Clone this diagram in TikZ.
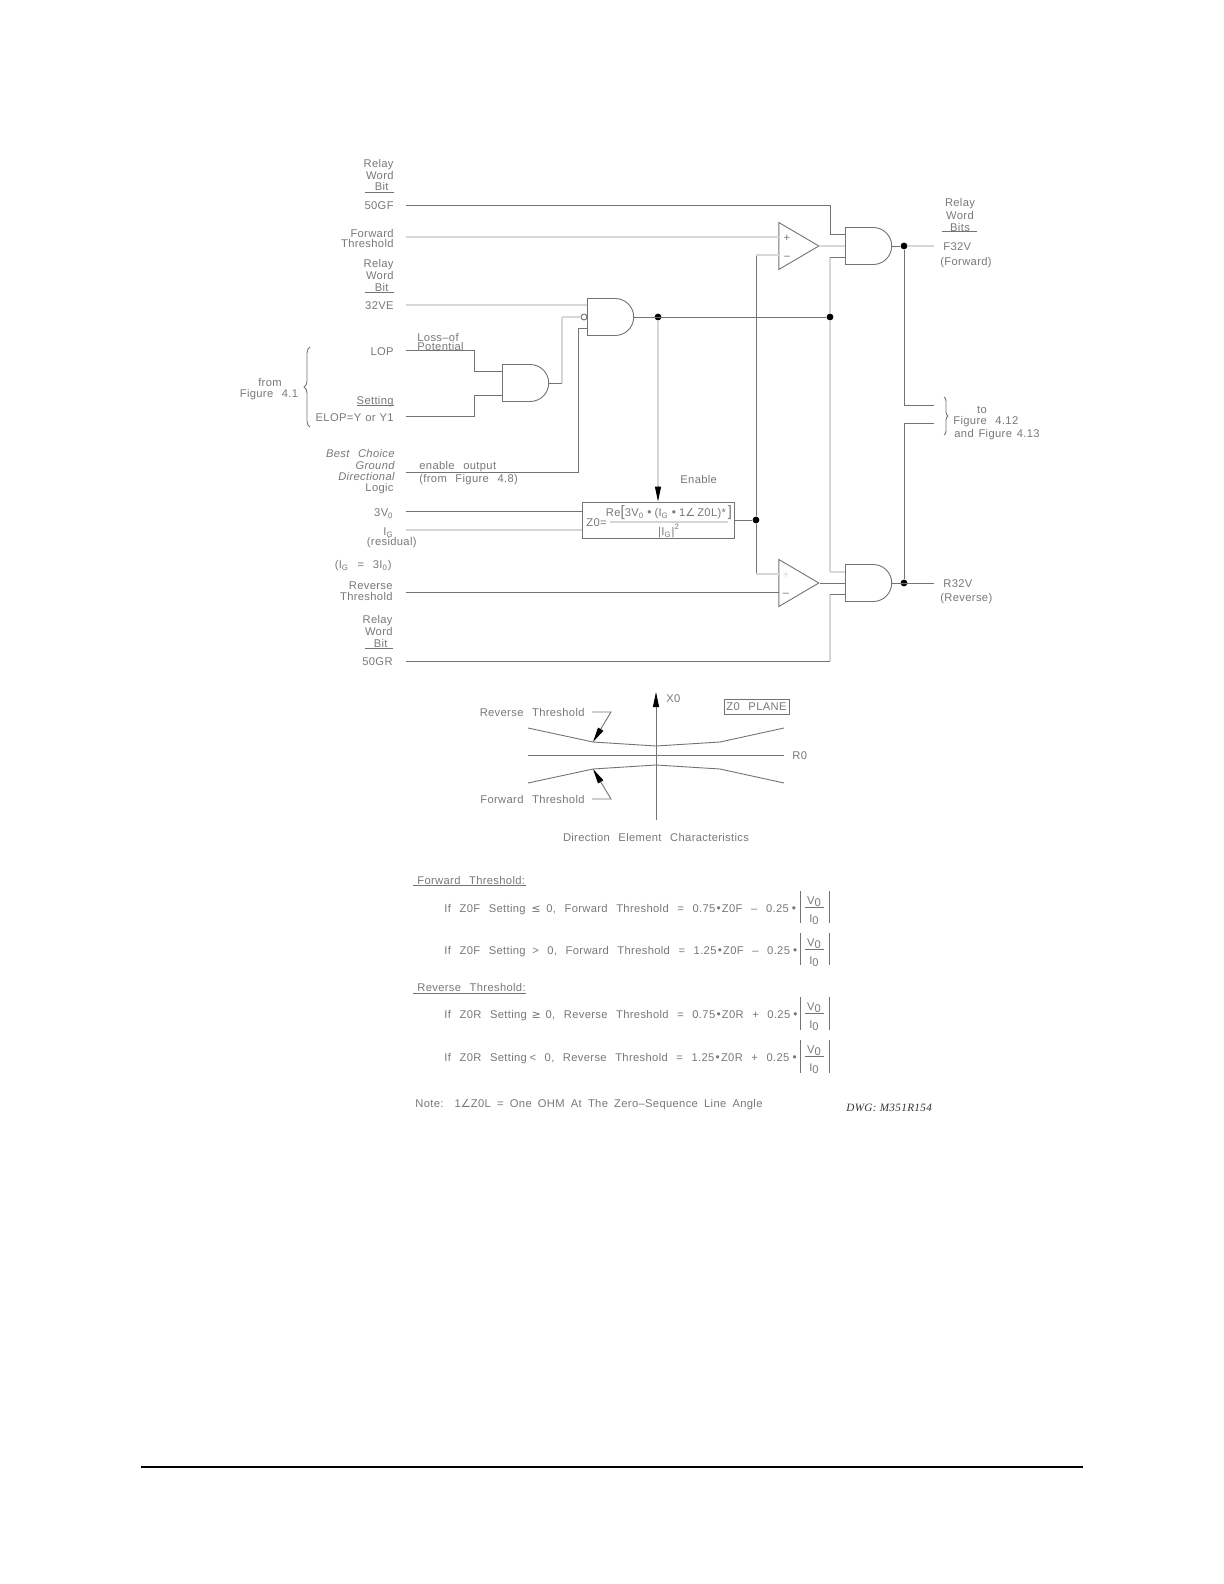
\documentclass[tikz,border=0pt]{standalone}
\usepackage{xcolor}
\usepackage{fontspec}
\setmainfont[LetterSpace=3,WordSpace=2.5]{Liberation Sans}
\newfontfamily\symfont[LetterSpace=0]{DejaVu Sans}
\newfontfamily\dwgfont[LetterSpace=3]{Liberation Serif}
\usetikzlibrary{shapes.geometric, shapes.gates.logic.US, arrows.meta, positioning, calc, decorations.pathreplacing}
\definecolor{mytext}{RGB}{120,120,120}
\definecolor{mywire}{RGB}{115,115,115}
\definecolor{mypale}{RGB}{215,215,215}
\tikzset{
  lbl/.style={font=\fontsize{5.6}{6}\selectfont, text=mytext, inner sep=0pt,
    text height=4pt, text depth=0pt},
  rlbl/.style={lbl, anchor=east},
  llbl/.style={lbl, anchor=west},
  wire/.style={color=mywire, line width=0.45pt},
  palewire/.style={color=mypale, line width=0.9pt},
  andgate/.style={and gate US, draw=mywire, line width=0.45pt, inner sep=0pt,
    minimum width=23pt, minimum height=18.5pt, anchor=west},
  comparator/.style={isosceles triangle, isosceles triangle stretches, draw=mywire,
    line width=0.45pt, inner sep=0pt, minimum width=23.5pt, minimum height=20pt,
    anchor=apex},
  dotnode/.style={circle, fill=black, inner sep=0pt, minimum size=3.4pt},
  pointer/.style={-{Triangle[length=7.5pt,width=3pt,color=black]}, color=mywire, line width=0.45pt}
}
\begin{document}
\begin{tikzpicture}[x=0.5pt, y=-0.5pt]
  \useasboundingbox (0,0) rectangle (1224,1584);

  % Gates
  \node[andgate] (andF) at (845,246) {};
  \node[andgate] (andR) at (845,583) {};
  \node[andgate] (andE) at (587,317) {};
  \node[andgate] (andL) at (502,383) {};
  \node[comparator] (cmpF) at (820,246) {};
  \node[comparator] (cmpR) at (820,583) {};
  \node[draw=mywire, line width=0.45pt, inner sep=0pt, minimum width=76pt, minimum height=18pt] (zbox) at (658,520) {};
  \node[circle, draw=mywire, line width=0.45pt, inner sep=0pt, minimum size=3pt] (bubble) at (584,317) {};

  % Left ends of the input lines
  \coordinate (in50GF) at (406,205);
  \coordinate (inFT) at (406,237);
  \coordinate (in32VE) at (406,305);
  \coordinate (inLOP) at (406,350);
  \coordinate (inELOP) at (406,416);
  \coordinate (inBest) at (406,472);
  \coordinate (in3V) at (406,511);
  \coordinate (inIG) at (406,530);
  \coordinate (inRT) at (406,592);
  \coordinate (in50GR) at (406,661);

  % Junctions
  \node[dotnode] (jEn) at (658,317) {};
  \node[dotnode] (jBus) at (830,317) {};
  \node[dotnode] (jZ) at (756,520) {};
  \node[dotnode] (jF) at (904,246) {};
  \node[dotnode] (jR) at (904,583) {};

  % Free ends
  \coordinate (outF) at (934,246);
  \coordinate (outR) at (934,583);
  \coordinate (toA) at (934,405);
  \coordinate (toB) at (934,423);

  % Inputs of the upper gates
  \draw[wire] (in50GF) -- (830,205) -- (830,234) -- (845,234);
  \draw[palewire] (inFT) -- (779,237);
  \draw[palewire] (in32VE) -- (587,305);
  \draw[wire] (inLOP) -- (474,350) -- (474,371) -- (502,371);
  \draw[wire] (inELOP) -- (474,416) -- (474,395) -- (502,395);
  \draw[wire] (andL.east) -- (562,383);
  \draw[palewire] (562,383) -- (562,317);
  \draw[palewire] (562,317) -- (bubble.west);
  \draw[wire] (inBest) -- (578,472) -- (578,328) -- (587,328);
  \draw[wire] (in3V) -- (582,511);
  \draw[palewire] (inIG) -- (582,530);
  \draw[wire] (andE.east) -- (jBus);
  \draw[palewire] (jEn) -- ($(zbox.north)+(0,-15)$);
  \draw[pointer] ($(zbox.north)+(0,-16)$) -- (zbox.north);

  % Comparators and output gates
  \draw[wire] (zbox.east) -- (jZ);
  \draw[wire] (jZ) -- (756,255);
  \draw[palewire] (756,255) -- (779,255);
  \draw[wire] (jZ) -- (756,574);
  \draw[palewire] (756,574) -- (779,574);
  \draw[wire] (inRT) -- (779,592);
  \draw[palewire] (cmpF.apex) -- (andF.west);
  \draw[wire] (cmpR.apex) -- (andR.west);
  \draw[palewire] (jBus) -- (830,257);
  \draw[wire] (830,257) -- (845,257);
  \draw[palewire] (jBus) -- (830,572);
  \draw[palewire] (830,572) -- (845,572);
  \draw[palewire] (830,594) -- (830,661);
  \draw[wire] (in50GR) -- (830,661);
  \draw[wire] (830,594) -- (845,594);
  \draw[wire] (andF.east) -- (jF);
  \draw[palewire] (jF) -- (outF);
  \draw[wire] (andR.east) -- (outR);
  \draw[wire] (jF) -- (904,405) -- (toA);
  \draw[wire] (jR) -- (904,423) -- (toB);

  % Comparator signs
  \node[lbl, anchor=center] (plusF) at (787,237) {+};
  \node[lbl, anchor=center] (minusF) at (787,255) {--};
  \node[lbl, anchor=center, text=mypale] (plusR) at (786,574) {+};
  \node[lbl, anchor=center] (minusR) at (786,592) {--};

  % Left labels
  \node[rlbl] (tRelayA) at (394,163) {Relay};
  \node[rlbl] (tWordA) at (394,175) {Word};
  \node[rlbl] (tBitA) at (389,187) {Bit};
  \draw[wire] (365,192) -- (394,192);
  \node[rlbl] (t50GF) at (394,205) {50GF};
  \node[rlbl] (tFwd) at (394,233) {Forward};
  \node[rlbl] (tThrF) at (394,243) {Threshold};
  \node[rlbl] (tRelayB) at (394,263) {Relay};
  \node[rlbl] (tWordB) at (394,275) {Word};
  \node[rlbl] (tBitB) at (389,287) {Bit};
  \draw[wire] (365,292) -- (394,292);
  \node[rlbl] (t32VE) at (394,305) {32VE};
  \node[llbl] (tLoss) at (417,337) {Loss--of};
  \node[llbl] (tPot) at (417,346) {Potential};
  \node[rlbl] (tLOP) at (394,351) {LOP};
  \node[rlbl] (tSet) at (394,400) {Setting};
  \draw[wire] (357,405) -- (394,405);
  \node[rlbl] (tELOP) at (394,417) {\spaceskip=2pt ELOP=Y or Y1};
  \node[lbl] (tFrom) at (270,382) {from};
  \node[lbl] (tFig) at (269,393) {Figure 4.1};
  \draw[wire, decorate, decoration={brace, amplitude=3pt}] (310,427) -- (310,347);
  \node[rlbl] (tBest) at (395,453) {\itshape Best Choice};
  \node[rlbl] (tGround) at (395,465) {\itshape Ground};
  \node[rlbl] (tDir) at (395,476) {\itshape Directional};
  \node[rlbl] (tLogic) at (394,487) {Logic};
  \node[llbl] (tEn) at (419,465) {enable output};
  \node[llbl] (tFig48) at (419,478) {(from Figure 4.8)};
  \node[llbl] (tEnable) at (680,479) {Enable};
  \node[rlbl] (t3V) at (394,512) {3V\textsubscript{0}};
  \node[rlbl] (tIG) at (394,531) {I\textsubscript{G}};
  \node[rlbl] (tRes) at (417,541) {(residual)};
  \node[rlbl] (tIG3) at (392,564) {(I\textsubscript{G} = 3I\textsubscript{0})};
  \node[rlbl] (tRev) at (393,585) {Reverse};
  \node[rlbl] (tThrR) at (393,596) {Threshold};
  \node[rlbl] (tRelayC) at (393,619) {Relay};
  \node[rlbl] (tWordC) at (393,631) {Word};
  \node[rlbl] (tBitC) at (388,643) {Bit};
  \draw[wire] (365,648) -- (393,648);
  \node[rlbl] (t50GR) at (393,661) {50GR};

  % Z0 formula
  \node[llbl] (tZ) at (586,522) {Z0=};
  \draw[palewire] (610,522) -- (728,522);
  \node[lbl] (tNum) at (669,512) {Re{\fontsize{7.5}{8}\selectfont[}3V\textsubscript{0}\,{\symfont•}\,(I\textsubscript{G}\,{\symfont•}\,1{\symfont∠}\,Z0L)*\,{\fontsize{7.5}{8}\selectfont]}};
  \node[lbl] (tDen) at (669,531) {|I\textsubscript{G}|\textsuperscript{2}};

  % Right labels
  \node[lbl] (tRelayD) at (960,202) {Relay};
  \node[lbl] (tWordD) at (960,215) {Word};
  \node[lbl] (tBitsD) at (960,227) {Bits};
  \draw[wire] (942,231) -- (977,231);
  \node[llbl] (tF32V) at (943,246) {F32V};
  \node[llbl] (tFor) at (940,261) {(Forward)};
  \node[llbl] (tR32V) at (943,583) {R32V};
  \node[llbl] (tRevr) at (940,597) {(Reverse)};
  \draw[wire, decorate, decoration={brace, amplitude=2pt}] (944,397) -- (944,435);
  \node[lbl] (tTo) at (982,409) {to};
  \node[llbl] (tFig12) at (953,420) {Figure 4.12};
  \node[llbl] (tFig13) at (954,433) {\spaceskip=2.4pt and Figure 4.13};

  % Z0 plane
  \coordinate (xBot) at (656,820);
  \coordinate (xTop) at (656,692);
  \coordinate (rLeft) at (528,755);
  \coordinate (rRight) at (784,755);
  \draw[pointer] (xBot) -- (xTop);
  \draw[wire] (rLeft) -- (rRight);
  \coordinate (up) at (593,742);
  \coordinate (lo) at (593,769);
  \draw[wire] (528,728) -- (up) -- (656,746) -- (720,742) -- (784,728);
  \draw[wire] (528,783) -- (lo) -- (656,765) -- (720,769) -- (784,783);
  \node[llbl] (tX0) at (666,698) {X0};
  \node[llbl] (tR0) at (792,755) {R0};
  \node[draw=mywire, line width=0.45pt, inner sep=0pt, minimum width=32.5pt, minimum height=7.5pt, font=\fontsize{5.6}{6}\selectfont, text=mytext] (tPlane) at (756.5,706.5) {Z0 PLANE};
  \node[rlbl] (tRevT) at (585,712) {Reverse Threshold};
  \node[rlbl] (tForT) at (585,799) {Forward Threshold};
  \draw[pointer] (tRevT.east) ++(7,0) -- (611,712) -- (up);
  \draw[pointer] (tForT.east) ++(7,0) -- (611,799) -- (lo);
  \node[lbl] (tChar) at (656,837) {Direction Element Characteristics};

  % Threshold equations
  \node[llbl] (tFwdHead) at (417,880) {Forward Threshold:};
  \draw[wire] (413,885) -- (526,885);
  \node[llbl] (eqA) at (444,908) {If Z0F Setting\hspace{-1.5pt} {\symfont≤}\hspace{-1.5pt} 0, Forward Threshold = 0.75{\symfont•}Z0F -- 0.25\,{\symfont•}};
  \draw[wire] (800,891) -- (800,923) (829,891) -- (829,923) (805,907) -- (824,907);
  \node[lbl] (vA) at (814,900) {V\raisebox{-1pt}{0}};
  \node[lbl] (iA) at (814,918) {I\raisebox{-1pt}{0}};
  \node[llbl] (eqB) at (444,950) {If Z0F Setting\hspace{-1pt} > 0, Forward Threshold = 1.25{\symfont•}Z0F -- 0.25\,{\symfont•}};
  \draw[wire] (800,933) -- (800,965) (829,933) -- (829,965) (805,949) -- (824,949);
  \node[lbl] (vB) at (814,942) {V\raisebox{-1pt}{0}};
  \node[lbl] (iB) at (814,960) {I\raisebox{-1pt}{0}};
  \node[llbl] (tRevHead) at (417,987) {Reverse Threshold:};
  \draw[wire] (413,993) -- (526,993);
  \node[llbl] (eqC) at (444,1014) {If Z0R Setting\hspace{-2pt} {\symfont≥}\hspace{-2pt} 0, Reverse Threshold = 0.75{\symfont•}Z0R + 0.25\,{\symfont•}};
  \draw[wire] (800,997) -- (800,1030) (829,997) -- (829,1030) (805,1013) -- (824,1013);
  \node[lbl] (vC) at (814,1006) {V\raisebox{-1pt}{0}};
  \node[lbl] (iC) at (814,1024) {I\raisebox{-1pt}{0}};
  \node[llbl] (eqD) at (444,1057) {If Z0R Setting\hspace{-3pt} < 0, Reverse Threshold = 1.25{\symfont•}Z0R + 0.25\,{\symfont•}};
  \draw[wire] (800,1040) -- (800,1073) (829,1040) -- (829,1073) (805,1056) -- (824,1056);
  \node[lbl] (vD) at (814,1049) {V\raisebox{-1pt}{0}};
  \node[lbl] (iD) at (814,1067) {I\raisebox{-1pt}{0}};
  \node[llbl] (tNote) at (415,1103) {\spaceskip=3.1pt Note:\quad 1{\symfont∠}Z0L = One OHM At The Zero--Sequence Line Angle};
  \node[llbl, text=black!80] (tDwg) at (846,1107) {\dwgfont\itshape DWG: M351R154};

  % Page rule
  \draw[black, line width=1pt] (141,1467) -- (1083,1467);
\end{tikzpicture}
\end{document}
